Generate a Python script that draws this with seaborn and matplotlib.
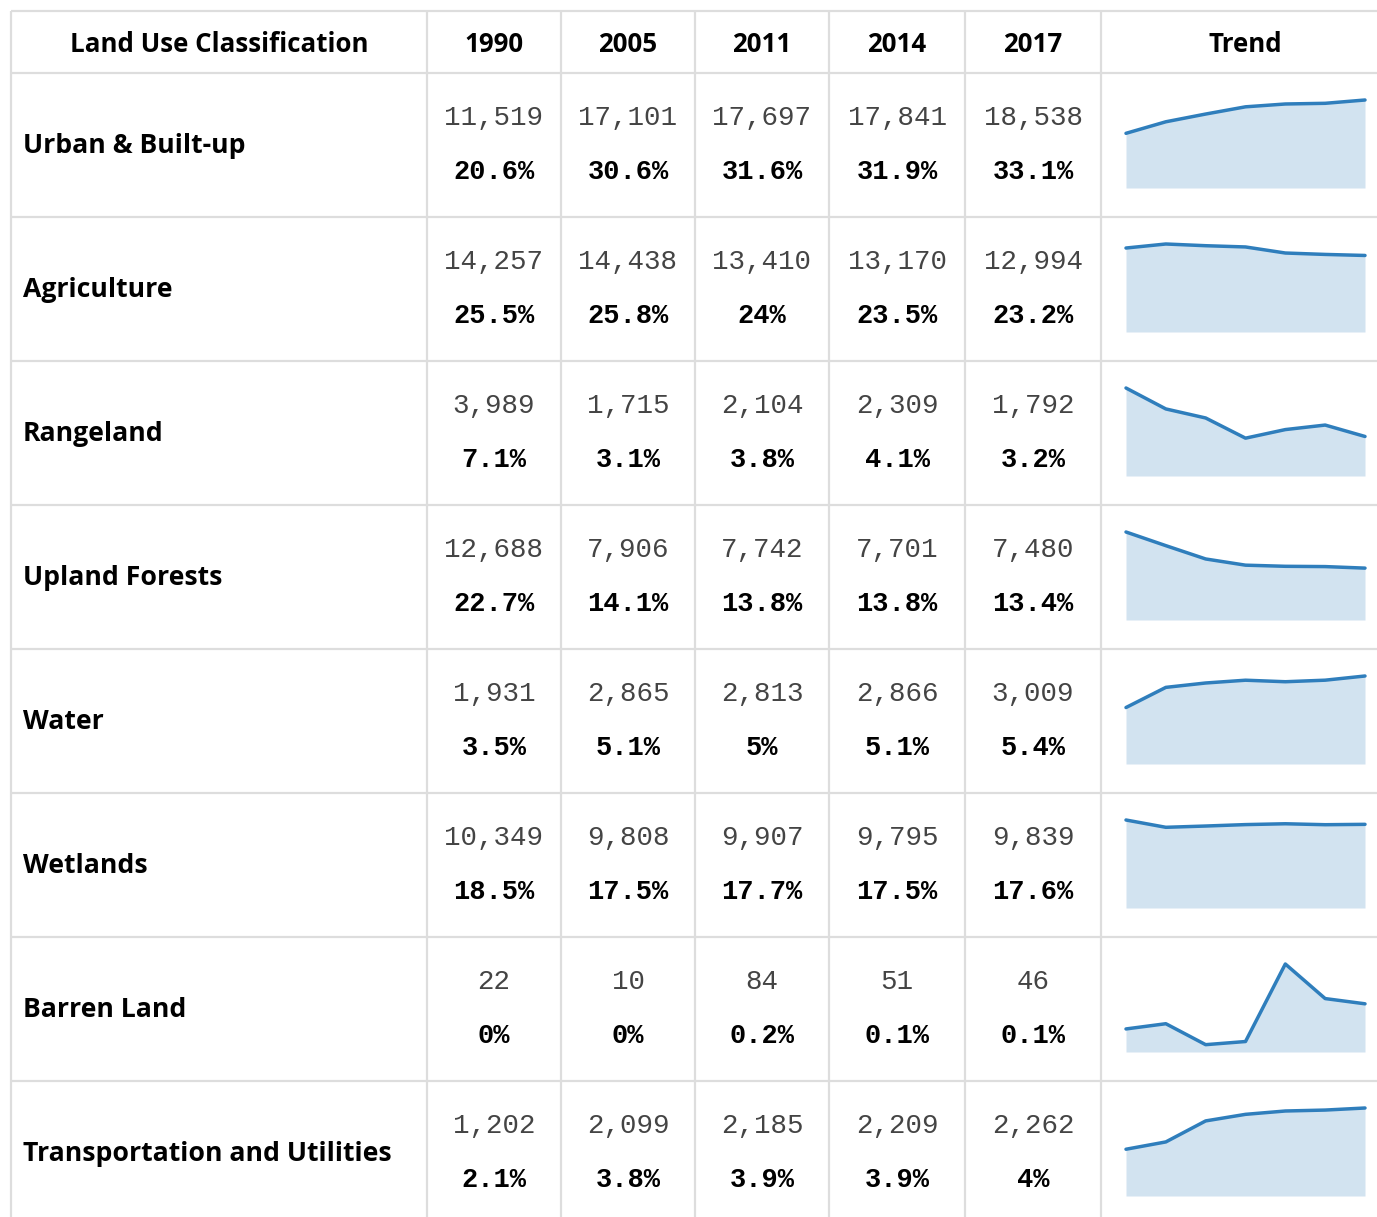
import numpy as np
import pandas as pd
import matplotlib
matplotlib.use('Agg')
import matplotlib.pyplot as plt
import seaborn as sns

categories = ['Urban & Built-up', 'Agriculture', 'Rangeland', 'Upland Forests',
              'Water', 'Wetlands', 'Barren Land', 'Transportation and Utilities']
years = ['1990', '2005', '2011', '2014', '2017']

area_1990 = [11519, 14257, 3989, 12688, 1931, 10349, 22, 1202]
area_2005 = [17101, 14438, 1715, 7906, 2865, 9808, 10, 2099]
area_2011 = [17697, 13410, 2104, 7742, 2813, 9907, 84, 2185]
area_2014 = [17841, 13170, 2309, 7701, 2866, 9795, 51, 2209]
area_2017 = [18538, 12994, 1792, 7480, 3009, 9839, 46, 2262]

pct_1990 = [20.6, 25.5, 7.1, 22.7, 3.5, 18.5, 0, 2.1]
pct_2005 = [30.6, 25.8, 3.1, 14.1, 5.1, 17.5, 0, 3.8]
pct_2011 = [31.6, 24.0, 3.8, 13.8, 5.0, 17.7, 0.2, 3.9]
pct_2014 = [31.9, 23.5, 4.1, 13.8, 5.1, 17.5, 0.1, 3.9]
pct_2017 = [33.1, 23.2, 3.2, 13.4, 5.4, 17.6, 0.1, 4.0]

# the sparklines carry two extra (unlabelled) steps between 1990 and 2005
trend_step2 = [13950, 14940, 3040, 10720, 2620, 9490, 27, 1390]
trend_step3 = [15580, 14650, 2630, 8800, 2770, 9640, 7, 1930]

areas = [area_1990, area_2005, area_2011, area_2014, area_2017]
pcts = [pct_1990, pct_2005, pct_2011, pct_2014, pct_2017]

W, H = 1377, 1217
sns.set_style('white')
plt.rcParams['font.family'] = ['Open Sans', 'DejaVu Sans']

fig = plt.figure(figsize=(W / 100, H / 100), dpi=100)
ax = fig.add_axes([0, 0, 1, 1])
ax.set_xlim(0, W)
ax.set_ylim(H, 0)
ax.axis('off')

# table grid
col_edges = [11, 427, 561, 695, 829, 965, 1101]
header_h = 62
row_h = 144
top = 11
row_edges = [top, top + header_h] + [top + header_h + row_h * (i + 1) for i in range(len(categories))]
grid = '#dddddd'
ax.hlines(row_edges, col_edges[0], W, color=grid, lw=1.6)
ax.vlines(col_edges, top, H, color=grid, lw=1.6)

# header
hy = top + header_h / 2 + 2
ax.text((col_edges[0] + col_edges[1]) / 2, hy, 'Land Use Classification', ha='center', va='center',
        fontsize=18.6, fontweight='bold', color='black')
for j, yr in enumerate(years):
    ax.text((col_edges[j + 1] + col_edges[j + 2]) / 2, hy, yr, ha='center', va='center',
            fontsize=18.6, fontweight='bold', color='black')
ax.text((col_edges[6] + 1377 + 12) / 2, hy, 'Trend', ha='center', va='center',
        fontsize=18.6, fontweight='bold', color='black')

line_c = '#2f7ebc'
fill_c = '#d2e3f0'

for i, cat in enumerate(categories):
    r0 = top + header_h + row_h * i
    cy = r0 + row_h / 2
    ax.text(23, cy + 1, cat, ha='left', va='center', fontsize=19.2, fontweight='bold', color='black')
    for j in range(len(years)):
        cx = (col_edges[j + 1] + col_edges[j + 2]) / 2
        ax.text(cx, cy - 27, f'{areas[j][i]:,}', ha='center', va='center',
                family='Liberation Mono', fontsize=19.8, color='#444444')
        ax.text(cx, cy + 27, f'{pcts[j][i]:g}%', ha='center', va='center',
                family='Liberation Mono', fontsize=19.5, fontweight='bold', color='black')

    # sparkline
    vals = [area_1990[i], trend_step2[i], trend_step3[i], area_2005[i],
            area_2011[i], area_2014[i], area_2017[i]]
    df = pd.DataFrame({'step': range(len(vals)), 'value': vals})
    s_top = r0 + 27
    s_bot = r0 + 115
    sax = fig.add_axes([1126 / W, 1 - s_bot / H, (1365 - 1126) / W, (s_bot - s_top) / H])
    sax.fill_between(df['step'], df['value'], color=fill_c, lw=0)
    sns.lineplot(data=df, x='step', y='value', ax=sax, color=line_c, lw=2.5)
    for l in sax.lines:
        l.set_clip_on(False)
    sax.set_xlim(0, len(vals) - 1)
    sax.set_ylim(0, max(vals))
    sax.axis('off')

fig.savefig('out.png', dpi=100)
